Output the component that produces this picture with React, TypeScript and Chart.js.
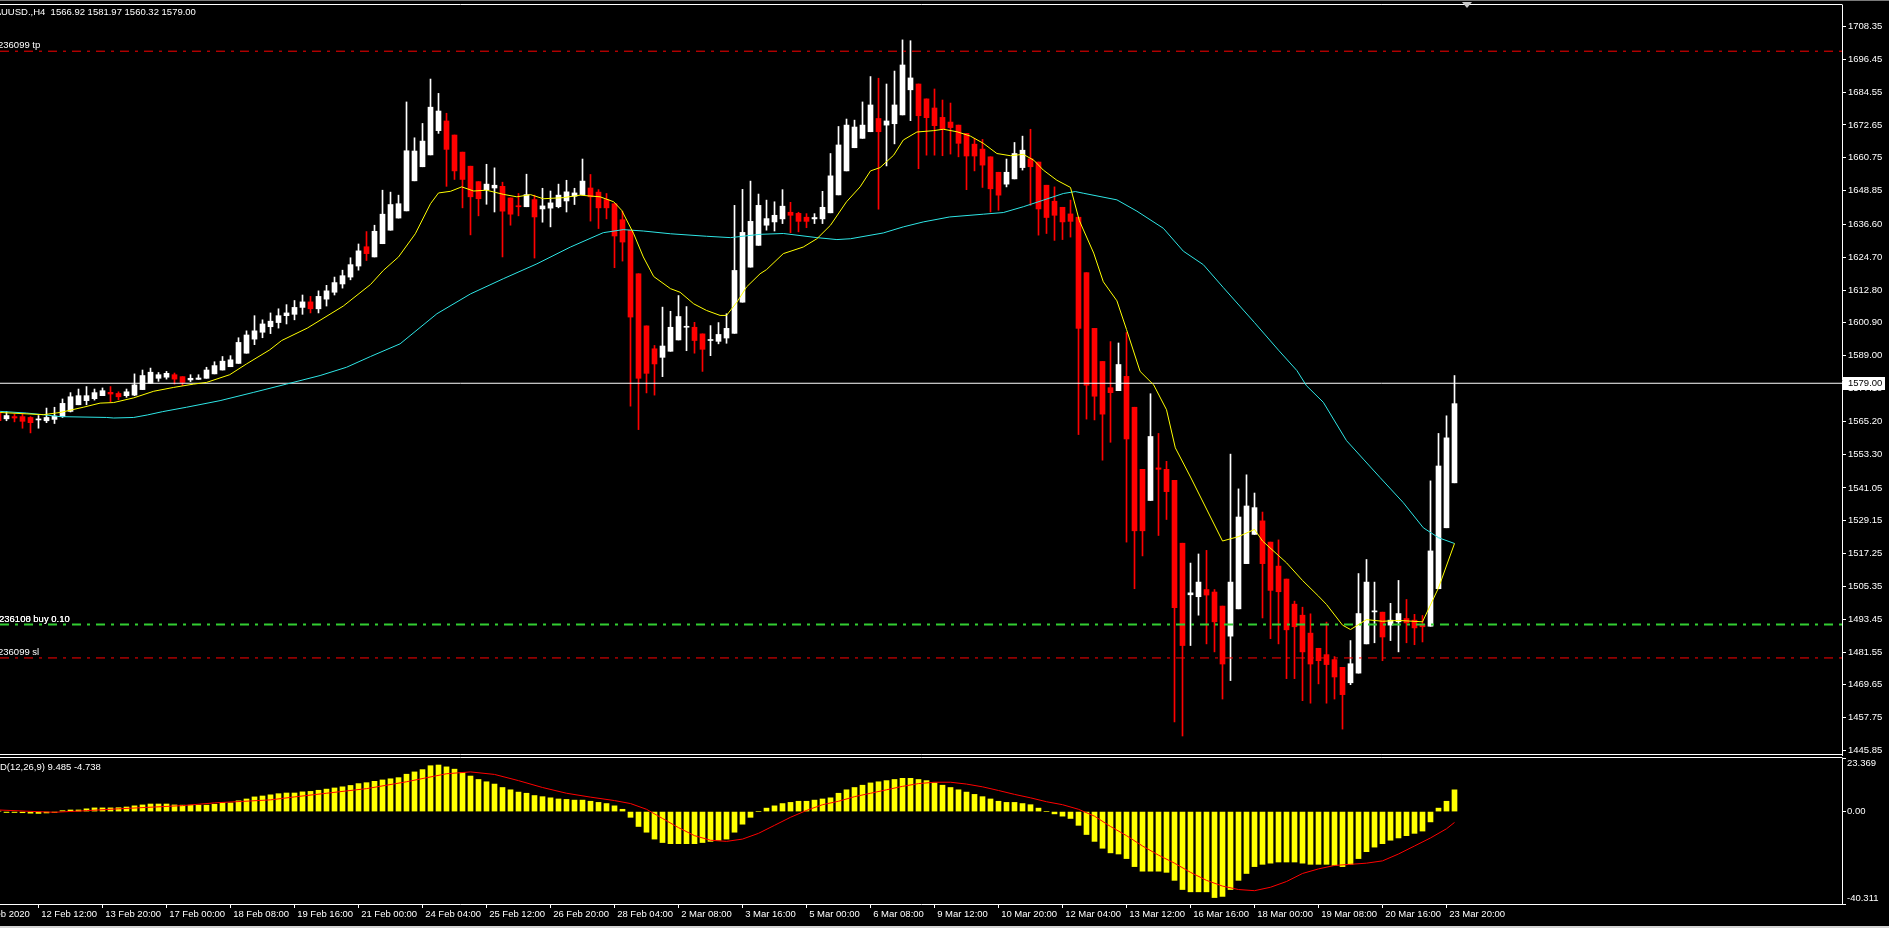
import React, { useEffect, useRef } from 'react';
import { Chart, registerables } from 'chart.js';

Chart.register(...registerables);

// ---------- DATA ----------
const FIRST_BAR = -1; // index of the first (partially visible) bar

const opens = [1568.1,1566.1,1566.9,1566.9,1566.6,1565.7,1565.4,1565.9,1566.9,1568.8,1571.2,1572.7,1573.4,1574.5,1575.7,1575.3,1574.5,1574.7,1576.7,1579.0,1580.8,1581.2,1582.1,1581.4,1580.2,1580.4,1580.8,1582.4,1583.8,1585.0,1586.2,1589.9,1595.0,1597.5,1599.5,1601.0,1603.5,1604.0,1606.5,1608.5,1606.0,1609.5,1612.0,1615.0,1617.5,1621.5,1628.5,1624.8,1629.6,1634.5,1638.9,1641.5,1652.4,1657.5,1661.8,1670.6,1674.1,1669.0,1662.8,1657.7,1652.1,1649.2,1649.8,1650.4,1646.2,1643.3,1643.0,1645.6,1642.2,1642.5,1643.0,1645.1,1646.8,1647.4,1649.8,1648.3,1645.6,1644.1,1638.3,1634.5,1618.7,1599.8,1591.5,1588.4,1590.6,1594.7,1599.3,1599.3,1596.9,1594.5,1594.2,1595.4,1597.1,1608.4,1621.1,1629.0,1636.3,1637.5,1638.6,1641.0,1640.6,1639.2,1638.6,1638.6,1640.8,1647.3,1656.0,1664.4,1667.8,1670.2,1675.0,1672.6,1673.1,1676.3,1685.4,1687.5,1682.1,1678.8,1675.4,1673.7,1672.6,1669.6,1665.7,1663.9,1661.1,1655.5,1651.2,1653.1,1657.2,1660.4,1659.2,1650.8,1645.0,1642.8,1640.4,1639.2,1619.1,1598.9,1586.9,1577.4,1576.3,1581.5,1570.3,1547.8,1536.5,1548.3,1547.8,1543.8,1521.0,1502.3,1501.6,1504.2,1503.3,1498.2,1487.3,1497.2,1513.6,1524.2,1529.1,1521.4,1512.7,1508.0,1498.9,1494.9,1488.4,1482.9,1480.6,1478.8,1476.0,1470.4,1473.9,1484.5,1496.1,1496.0,1491.3,1492.5,1493.7,1493.1,1491.5,1490.9,1504.5,1526.6,1542.9];

const highs = [1568.5,1568.7,1567.8,1567.8,1566.9,1567.3,1570.0,1570.3,1573.3,1575.6,1576.9,1577.8,1576.9,1577.3,1577.8,1575.9,1576.9,1582.4,1583.8,1584.5,1582.9,1583.3,1582.7,1581.4,1582.1,1582.1,1584.8,1586.8,1588.7,1589.0,1595.5,1598.0,1603.5,1602.0,1604.5,1606.0,1607.5,1609.0,1611.0,1610.5,1612.5,1614.5,1617.5,1620.0,1624.5,1629.5,1634.0,1636.3,1649.0,1648.3,1647.2,1681.0,1668.0,1673.2,1689.3,1684.1,1676.9,1669.0,1662.8,1657.7,1652.1,1658.4,1657.1,1651.9,1646.2,1647.8,1654.8,1647.2,1649.7,1648.7,1651.2,1652.6,1649.7,1660.3,1654.7,1649.2,1647.8,1644.1,1641.4,1634.5,1618.7,1599.8,1592.7,1606.6,1605.1,1610.8,1606.8,1601.1,1596.9,1599.9,1601.0,1604.2,1643.5,1649.3,1652.3,1647.6,1645.4,1644.8,1649.2,1644.6,1641.0,1640.5,1640.5,1648.6,1662.3,1672.1,1674.8,1674.4,1681.0,1690.2,1689.6,1687.5,1692.2,1703.5,1703.2,1687.5,1682.1,1685.7,1681.7,1680.6,1672.6,1669.6,1667.8,1667.4,1661.1,1655.5,1660.3,1666.3,1668.6,1671.1,1659.2,1650.8,1650.2,1642.8,1645.4,1639.2,1619.1,1598.9,1586.9,1594.1,1593.6,1597.4,1570.3,1547.8,1575.2,1560.8,1550.7,1543.8,1521.0,1513.8,1517.1,1518.4,1504.2,1498.2,1553.3,1540.7,1545.8,1539.2,1532.3,1521.4,1522.2,1508.0,1500.0,1497.8,1495.4,1482.9,1492.4,1479.9,1476.0,1485.7,1510.0,1515.1,1506.9,1496.0,1499.2,1507.5,1500.6,1495.2,1494.8,1543.6,1560.8,1567.2,1581.8];

const lows = [1565.0,1565.4,1565.0,1562.7,1561.0,1562.7,1564.7,1564.4,1566.6,1568.6,1571.2,1571.2,1572.9,1574.5,1572.3,1573.0,1573.9,1574.5,1576.7,1579.0,1579.7,1580.5,1578.7,1578.2,1579.6,1580.4,1580.8,1582.4,1583.8,1585.0,1586.2,1589.9,1593.0,1595.5,1597.0,1599.0,1600.5,1602.0,1604.0,1604.5,1604.5,1607.0,1611.0,1613.5,1616.5,1620.0,1623.5,1624.8,1629.6,1634.5,1638.9,1641.5,1652.4,1657.5,1661.8,1669.6,1650.4,1652.9,1642.6,1632.8,1639.7,1643.9,1641.1,1624.8,1636.3,1639.7,1643.0,1624.4,1637.4,1635.7,1642.6,1641.1,1643.8,1647.4,1637.8,1635.1,1638.6,1620.9,1623.3,1570.7,1562.2,1575.5,1574.7,1581.4,1590.6,1594.7,1590.8,1589.9,1583.3,1589.0,1593.3,1593.5,1597.1,1608.4,1621.1,1629.0,1634.5,1634.2,1636.9,1633.6,1633.9,1635.4,1636.9,1636.9,1640.8,1647.3,1656.0,1664.4,1667.8,1670.2,1642.1,1657.8,1665.8,1676.3,1674.2,1656.8,1661.7,1661.7,1661.5,1662.1,1661.1,1649.2,1656.0,1650.0,1641.1,1641.7,1650.2,1653.1,1656.3,1643.5,1632.7,1633.3,1630.8,1631.1,1632.0,1560.4,1566.0,1565.7,1551.1,1557.6,1576.3,1521.4,1504.5,1516.4,1536.5,1523.8,1529.6,1456.2,1451.1,1483.9,1494.9,1484.5,1481.6,1464.5,1471.2,1497.2,1513.6,1524.2,1493.9,1486.4,1484.5,1471.9,1471.9,1463.9,1463.0,1470.0,1463.0,1464.5,1453.6,1469.7,1473.9,1484.5,1484.9,1478.4,1485.7,1481.6,1484.9,1484.2,1485.2,1490.9,1504.5,1526.6,1542.9];

const closes = [1565.4,1567.3,1566.4,1565.2,1564.7,1565.9,1566.6,1567.1,1571.7,1574.1,1574.5,1574.5,1575.6,1576.3,1575.1,1574.1,1575.9,1578.4,1581.8,1583.0,1582.1,1582.6,1580.5,1579.3,1580.8,1580.9,1583.8,1585.4,1587.0,1587.5,1593.8,1596.5,1598.0,1600.5,1601.5,1603.5,1604.5,1606.5,1608.5,1606.0,1610.5,1612.5,1615.5,1618.0,1622.0,1627.0,1626.0,1634.1,1640.3,1643.8,1644.1,1663.3,1663.2,1666.8,1679.1,1677.7,1663.8,1656.0,1652.9,1646.6,1645.9,1651.2,1650.8,1641.4,1640.3,1643.0,1647.4,1639.3,1643.3,1644.4,1647.2,1648.4,1648.0,1652.3,1646.6,1642.6,1642.6,1632.4,1630.2,1603.0,1580.8,1582.6,1586.0,1592.5,1599.3,1603.2,1599.6,1594.5,1591.3,1594.7,1596.7,1598.9,1619.9,1633.7,1637.7,1643.5,1638.7,1639.9,1643.2,1639.9,1637.7,1637.7,1639.1,1642.8,1654.2,1665.4,1672.6,1671.9,1672.6,1679.9,1670.2,1674.1,1679.9,1694.4,1689.7,1676.0,1675.3,1672.4,1671.2,1671.7,1666.0,1661.4,1661.4,1658.1,1649.5,1647.2,1655.5,1662.3,1663.5,1657.5,1642.2,1639.1,1639.9,1637.5,1637.7,1598.9,1578.3,1574.3,1567.8,1575.6,1585.8,1558.8,1525.5,1525.5,1559.7,1547.8,1539.7,1497.6,1483.9,1503.0,1506.9,1502.2,1492.5,1477.2,1506.9,1530.5,1534.5,1533.9,1513.6,1503.9,1503.4,1489.6,1490.7,1481.6,1477.2,1478.4,1477.0,1472.5,1466.1,1477.3,1495.5,1506.9,1496.3,1487.0,1493.1,1495.5,1492.1,1490.3,1490.7,1518.2,1549.0,1559.2,1571.6];

// yellow (fast) moving average, read at bar positions
const fastMaBars = [-0.8,4.6,6.7,9.6,11.7,13.4,15.9,18.4,20.9,23.4,25,27.9,30,32.9,34.4,37.6,42.1,45.5,47.1,49,51.1,53,54,55.5,56.9,58.4,60,62.1,63.8,65.5,67.1,69.6,71.7,74.2,75.9,76.9,78.4,79.6,80.9,83,84.2,85.9,87.5,89.2,90,91.3,92.5,94.2,95,97.1,99.6,101.3,103,105,106.7,108,109.2,110.9,112.1,113.8,115.9,117.1,118.8,120.5,122.1,123.8,125.5,127.1,128.4,129.6,131.3,133,134.1,135.9,137.1,138.8,140,141.7,143.4,145,146.1,148,150,152,154,156,157,160,162,164,165,167,168,170,172,174,177,179,181];
const fastMaValues = [1568.4,1567.6,1568.4,1570.3,1571.8,1572.0,1573.7,1576.1,1577.5,1578.7,1579.3,1582.1,1586.0,1591.1,1594.5,1599.0,1607.0,1614.8,1619.9,1624.8,1633.2,1644.1,1648.0,1648.6,1650.2,1648.7,1649.0,1647.5,1646.6,1647.4,1645.9,1646.3,1647.2,1646.6,1644.8,1641.7,1633.2,1624.8,1617.7,1613.3,1612.0,1607.8,1605.4,1603.6,1603.6,1608.4,1613.9,1618.7,1620.2,1626.0,1628.4,1631.4,1636.3,1644.8,1650.2,1656.0,1657.2,1661.7,1667.2,1670.1,1670.6,1671.1,1670.2,1668.6,1666.0,1662.3,1661.5,1662.0,1659.9,1656.3,1652.6,1650.0,1638.0,1626.2,1615.8,1608.9,1598.5,1583.3,1578.4,1569.4,1555.6,1545.0,1533.4,1521.8,1523.4,1526.0,1521.8,1513.9,1507.5,1501.8,1498.8,1491.3,1489.7,1493.3,1492.7,1493.0,1492.5,1504.8,1520.9];

// cyan (slow) moving average
const slowMaBars = [-0.8,2.5,4.6,6.7,12.5,13.4,15.9,17.6,19.5,22.5,26.7,30.9,35,39.2,42.5,45.5,49.2,53.8,58,62.1,66.3,70.5,74.6,77.1,79.6,83,87.5,90.5,94.2,97.1,101.3,103.8,105.5,109.6,112.1,114.6,117.9,122.1,124.6,127.1,129.6,132.1,133.6,134.6,138.8,141.3,144.6,147.1,149.6,152.1,156,159,161.3,162.5,164.6,167.5,169.6,171.7,174.6,177.1,179,181];
const slowMaValues = [1568.8,1568.2,1567.6,1566.9,1566.6,1566.4,1566.6,1567.5,1568.7,1570.3,1572.7,1575.7,1578.7,1581.8,1584.8,1588.7,1593.3,1604.2,1611.4,1616.9,1622.3,1628.4,1633.6,1634.7,1634.2,1633.2,1632.3,1631.8,1633.0,1633.3,1631.8,1631.1,1631.4,1633.5,1635.7,1637.5,1639.3,1640.3,1640.9,1643.0,1645.4,1647.8,1648.5,1647.9,1645.5,1641.4,1635.2,1626.9,1622.0,1613.7,1601.0,1591.0,1583.6,1578.1,1572.1,1558.2,1551.5,1544.8,1535.7,1526.6,1523.0,1520.9];

// MACD(12,26,9) histogram, one value per bar (from FIRST_BAR)
const macdValues = [0.2,-0.4,-0.4,-0.5,-0.7,-0.8,-0.6,-0.4,0.4,0.7,0.7,1.2,1.6,1.6,1.6,1.7,2.0,2.5,2.9,3.3,3.3,3.3,2.9,2.8,2.8,2.8,2.8,3.2,3.8,3.8,4.7,5.5,6.4,6.8,7.3,7.8,8.1,8.1,8.6,8.8,9.3,9.8,10.3,10.8,11.4,12.2,12.6,13.2,13.8,14.3,14.8,16.3,17.3,18.3,20.0,20.3,19.5,18.5,17.0,15.5,14.0,13.0,12.0,10.5,9.5,8.5,8.0,7.0,6.5,6.0,5.5,5.3,5.0,5.0,4.5,4.0,3.5,2.5,1.0,-2.5,-6.5,-9.0,-12.0,-13.5,-14.0,-14.0,-14.0,-14.0,-13.5,-13.0,-12.5,-12.0,-9.0,-5.5,-2.5,0.0,1.5,2.5,3.5,4.0,4.5,4.5,5.0,5.5,6.0,8.0,9.5,10.5,11.5,12.5,13.0,13.5,14.0,14.5,14.5,14.0,13.5,12.5,11.5,10.5,9.5,8.5,7.5,6.5,5.5,4.5,4.0,4.0,3.5,3.0,1.5,0.0,-1.0,-2.0,-3.0,-6.0,-10.0,-13.0,-16.0,-18.0,-18.5,-20.5,-24.0,-26.0,-26.0,-26.0,-26.5,-30.0,-34.0,-35.0,-35.0,-35.0,-37.5,-37.0,-34.0,-30.0,-27.0,-24.0,-23.0,-22.5,-22.0,-22.0,-22.0,-22.5,-23.0,-23.0,-23.0,-23.5,-24.0,-23.0,-20.5,-17.5,-15.5,-14.0,-12.5,-11.5,-10.5,-9.5,-8.5,-4.5,1.5,4.5,9.485];

// MACD signal line
const signalBars = [-1,3,6,10,14,22,26,33,36,40,45,50,55,58,61,64,67,70,73,76,78,80,82,84,86,88,90,92,94,96,98,100,102,104,106,108,110,112,114,116,118,120,122,124,126,128,130,132,134,136,138,140,142,144,146,148,150,152,154,156,158,160,162,164,166,168,170,172,174,176,178,180,181];
const signalValues = [0.7,0.1,-0.3,0.4,1.2,2.6,3.8,5.1,6.4,8,10,13,16.5,17.3,16.2,13.5,10.5,8,6.3,4.8,3.5,1,-3,-7,-10.5,-12.5,-13,-12,-9.5,-6,-2.5,0.5,3,4.5,6.5,8,9.5,11,12.2,12.8,12.8,12,10.8,9.2,7.5,6,4.3,3,1,-2,-6.5,-10.5,-15,-19,-22.5,-26.5,-30,-32.5,-34,-34.5,-33,-30.5,-27,-25,-23.5,-23,-22.5,-21.5,-18.5,-15,-11.5,-7.5,-4.738];

// horizontal levels
const tpLevel = 1699.4;
const buyLevel = 1491.5;
const slLevel = 1479.4;
const bidLevel = 1579.0;

// axis ticks
const priceTicks = [1708.35,1696.45,1684.55,1672.65,1660.75,1648.85,1636.60,1624.70,1612.80,1600.90,1589.00,1577.10,1565.20,1553.30,1541.05,1529.15,1517.25,1505.35,1493.45,1481.55,1469.65,1457.75,1445.85];
const macdTicks = [23.369, 0, -40.311];
const macdTickLabels = ['23.369', '0.00', '-40.311'];
const timeTickBars = [-4,4,12,20,28,36,44,52,60,68,76,84,92,100,108,116,124,132,140,148,156,164,172,180];
const timeTickLabels = ['11 Feb 2020','12 Feb 12:00','13 Feb 20:00','17 Feb 00:00','18 Feb 08:00','19 Feb 16:00','21 Feb 00:00','24 Feb 04:00','25 Feb 12:00','26 Feb 20:00','28 Feb 04:00','2 Mar 08:00','3 Mar 16:00','5 Mar 00:00','6 Mar 08:00','9 Mar 12:00','10 Mar 20:00','12 Mar 04:00','13 Mar 12:00','16 Mar 16:00','18 Mar 00:00','19 Mar 08:00','20 Mar 16:00','23 Mar 20:00'];

// ---------- LAYOUT ----------
const W = 1889;
const H = 928;
const MAIN_H = 757;
const MACD_H = H - MAIN_H;
const AXIS_W = 47;
const X_MIN = -0.8125;
const X_MAX = 229.4375;
const PRICE_MIN = 1444.21;
const PRICE_MAX = 1716.15;
const MACD_MIN = -40.311;
const MACD_MAX = 23.369;
const FONT_FAMILY = '"Liberation Sans", Arial, sans-serif';
const FONT_SIZE = 9.5;
const FONT = { family: FONT_FAMILY, size: FONT_SIZE };
const CSS_FONT = `${FONT_SIZE}px ${FONT_FAMILY}`;
const DASH_DOT = [9, 6, 3, 6];

const barX = (k: number) => k + FIRST_BAR;

const zeroPad = (a: any) => {
  a.paddingLeft = 0;
  a.paddingRight = 0;
  a.paddingTop = 0;
  a.paddingBottom = 0;
};

function levelDataset(y: number, color: string, width: number, dash: number[] | undefined, order: number) {
  return {
    type: 'line',
    data: [{ x: X_MIN, y }, { x: X_MAX, y }],
    borderColor: color,
    borderWidth: width,
    borderDash: dash || [],
    pointRadius: 0,
    order,
  };
}

const mainOverlay = {
  id: 'mainOverlay',
  afterDraw(chart: any) {
    const ctx = chart.ctx as CanvasRenderingContext2D;
    const { right, top, bottom } = chart.chartArea;
    ctx.save();
    // window frame strip at the very top
    ctx.fillStyle = '#7a7a7a';
    ctx.fillRect(0, 0, W, 1);
    ctx.strokeStyle = '#ffffff';
    ctx.lineWidth = 1;
    ctx.beginPath();
    ctx.moveTo(0, Math.round(top) - 0.5);
    ctx.lineTo(right + 0.5, Math.round(top) - 0.5);
    ctx.moveTo(0, Math.round(bottom) - 0.5);
    ctx.lineTo(right + 0.5, Math.round(bottom) - 0.5);
    ctx.stroke();

    ctx.font = CSS_FONT;
    ctx.fillStyle = '#ffffff';
    ctx.textBaseline = 'middle';
    ctx.textAlign = 'left';
    const hidden = ctx.measureText('XA').width;
    ctx.fillText('XAUUSD.,H4  1566.92 1581.97 1560.32 1579.00', -hidden + 1, 12.5);
    ctx.fillText('236099 tp', -2, 45.5);
    ctx.fillText('236100 buy 0.10', -1, 619);
    ctx.fillText('236108 buy 0.10', -1, 619);
    ctx.fillText('236099 sl', -2, 652);

    // bid price box on the axis
    const yBid = chart.scales.y.getPixelForValue(bidLevel);
    ctx.fillStyle = '#ffffff';
    ctx.fillRect(right + 1, Math.round(yBid) - 6, 42, 13);
    ctx.fillStyle = '#000000';
    ctx.fillText(bidLevel.toFixed(2), right + 6, Math.round(yBid) + 0.5);

    // chart shift marker
    ctx.fillStyle = '#c8c8c8';
    ctx.beginPath();
    ctx.moveTo(1462, 2);
    ctx.lineTo(1472, 2);
    ctx.lineTo(1467, 8);
    ctx.closePath();
    ctx.fill();
    ctx.restore();
  },
};

const macdOverlay = {
  id: 'macdOverlay',
  afterDraw(chart: any) {
    const ctx = chart.ctx as CanvasRenderingContext2D;
    const { right, top } = chart.chartArea;
    ctx.save();
    ctx.strokeStyle = '#ffffff';
    ctx.lineWidth = 1;
    ctx.beginPath();
    ctx.moveTo(0, Math.round(top) - 0.5);
    ctx.lineTo(right + 0.5, Math.round(top) - 0.5);
    ctx.stroke();
    // window frame strip at the very bottom
    ctx.fillStyle = '#d4d4d4';
    ctx.fillRect(0, chart.height - 2, W, 2);
    ctx.font = CSS_FONT;
    ctx.fillStyle = '#ffffff';
    ctx.textBaseline = 'middle';
    ctx.textAlign = 'left';
    const hidden = ctx.measureText('MAC').width;
    ctx.fillText('MACD(12,26,9) ' + macdValues[macdValues.length - 1].toFixed(3) + ' ' + signalValues[signalValues.length - 1].toFixed(3), -hidden, 10);
    ctx.restore();
  },
};

function mainConfig(): any {
  const xs = opens.map((_, k) => barX(k));
  const colors = opens.map((o, k) => (closes[k] >= o ? '#ffffff' : '#ff0000'));
  return {
    type: 'bar',
    data: {
      datasets: [
        {
          type: 'line',
          label: 'MA fast',
          data: fastMaBars.map((x, k) => ({ x, y: fastMaValues[k] })),
          borderColor: '#ffff00',
          borderWidth: 1,
          pointRadius: 0,
          order: 0,
        },
        {
          type: 'line',
          label: 'MA slow',
          data: slowMaBars.map((x, k) => ({ x, y: slowMaValues[k] })),
          borderColor: '#2ee6e6',
          borderWidth: 1,
          pointRadius: 0,
          order: 0,
        },
        levelDataset(tpLevel, '#ff0000', 1, DASH_DOT, 1),
        levelDataset(slLevel, '#ff0000', 1, DASH_DOT, 1),
        levelDataset(buyLevel, '#32cd32', 2, DASH_DOT, 1),
        levelDataset(bidLevel, '#ffffff', 1, undefined, 1),
        {
          label: 'bodies',
          data: xs.map((x, k) => ({ x, y: [opens[k], closes[k]] })),
          backgroundColor: colors,
          borderWidth: 0,
          barThickness: 5,
          minBarLength: 1,
          grouped: false,
          order: 2,
        },
        {
          label: 'wicks',
          data: xs.map((x, k) => ({ x, y: [lows[k], highs[k]] })),
          backgroundColor: colors,
          borderWidth: 0,
          barThickness: 1,
          minBarLength: 1,
          grouped: false,
          order: 3,
        },
      ],
    },
    options: {
      animation: false,
      responsive: false,
      maintainAspectRatio: false,
      events: [],
      layout: { padding: { top: 5, bottom: 2, left: 0, right: 0 } },
      plugins: { legend: { display: false }, tooltip: { enabled: false } },
      scales: {
        x: {
          type: 'linear',
          min: X_MIN,
          max: X_MAX,
          offset: false,
          display: false,
          grid: { offset: false },
        },
        y: {
          type: 'linear',
          position: 'right',
          min: PRICE_MIN,
          max: PRICE_MAX,
          afterBuildTicks: (a: any) => {
            a.ticks = priceTicks.map((v) => ({ value: v }));
          },
          afterFit: (a: any) => {
            a.width = AXIS_W;
            zeroPad(a);
          },
          ticks: {
            color: '#ffffff',
            font: FONT,
            padding: 2,
            autoSkip: false,
            callback: (v: any) => Number(v).toFixed(2),
          },
          grid: { display: true, drawOnChartArea: false, drawTicks: true, tickLength: 4, color: '#ffffff' },
          border: { display: true, color: '#ffffff', width: 1 },
        },
      },
    },
    plugins: [mainOverlay],
  };
}

function macdConfig(): any {
  const xs = macdValues.map((_, k) => barX(k));
  return {
    type: 'bar',
    data: {
      datasets: [
        {
          type: 'line',
          label: 'Signal',
          data: signalBars.map((x, k) => ({ x, y: signalValues[k] })),
          borderColor: '#ff0000',
          borderWidth: 1,
          pointRadius: 0,
          order: 0,
        },
        {
          label: 'MACD',
          data: xs.map((x, k) => ({ x, y: macdValues[k] })),
          backgroundColor: '#ffff00',
          borderWidth: 0,
          barThickness: 5,
          grouped: false,
          order: 1,
        },
      ],
    },
    options: {
      animation: false,
      responsive: false,
      maintainAspectRatio: false,
      events: [],
      layout: { padding: { top: 1, bottom: 0, left: 0, right: 0 } },
      plugins: { legend: { display: false }, tooltip: { enabled: false } },
      scales: {
        x: {
          type: 'linear',
          position: 'bottom',
          min: X_MIN,
          max: X_MAX,
          offset: false,
          afterBuildTicks: (a: any) => {
            a.ticks = timeTickBars.map((v) => ({ value: v }));
          },
          afterFit: (a: any) => {
            a.height = 24;
            zeroPad(a);
          },
          ticks: {
            color: '#ffffff',
            font: FONT,
            align: 'start',
            maxRotation: 0,
            minRotation: 0,
            autoSkip: false,
            padding: 1,
            callback: (v: any) => {
              const idx = timeTickBars.indexOf(Number(v));
              return idx >= 0 ? ' ' + timeTickLabels[idx] : '';
            },
          },
          grid: { display: true, drawOnChartArea: false, drawTicks: true, tickLength: 4, color: '#ffffff', offset: false },
          border: { display: true, color: '#ffffff', width: 1 },
        },
        y: {
          type: 'linear',
          position: 'right',
          min: MACD_MIN,
          max: MACD_MAX,
          afterBuildTicks: (a: any) => {
            a.ticks = macdTicks.map((v) => ({ value: v }));
          },
          afterFit: (a: any) => {
            a.width = AXIS_W;
            zeroPad(a);
          },
          ticks: {
            color: '#ffffff',
            font: FONT,
            padding: 1,
            autoSkip: false,
            callback: (v: any, i: number) => {
              const label = macdTickLabels[i];
              if (i === 0) return ['', label];
              if (i === macdTicks.length - 1) return [label, ''];
              return label;
            },
          },
          grid: { display: true, drawOnChartArea: false, drawTicks: true, tickLength: 4, color: '#ffffff' },
          border: { display: true, color: '#ffffff', width: 1 },
        },
      },
    },
    plugins: [macdOverlay],
  };
}

export default function App() {
  const mainRef = useRef<HTMLCanvasElement>(null);
  const macdRef = useRef<HTMLCanvasElement>(null);

  useEffect(() => {
    document.body.style.margin = '0';
    document.body.style.background = '#000000';
    const main = new Chart(mainRef.current as HTMLCanvasElement, mainConfig());
    const macd = new Chart(macdRef.current as HTMLCanvasElement, macdConfig());
    return () => {
      main.destroy();
      macd.destroy();
    };
  }, []);

  return (
    <div style={{ position: 'fixed', left: 0, top: 0, width: W, height: H, background: '#000000', overflow: 'hidden' }}>
      <canvas
        ref={mainRef}
        width={W}
        height={MAIN_H}
        style={{ position: 'absolute', left: 0, top: 0, width: W, height: MAIN_H }}
      />
      <canvas
        ref={macdRef}
        width={W}
        height={MACD_H}
        style={{ position: 'absolute', left: 0, top: MAIN_H, width: W, height: MACD_H }}
      />
    </div>
  );
}
